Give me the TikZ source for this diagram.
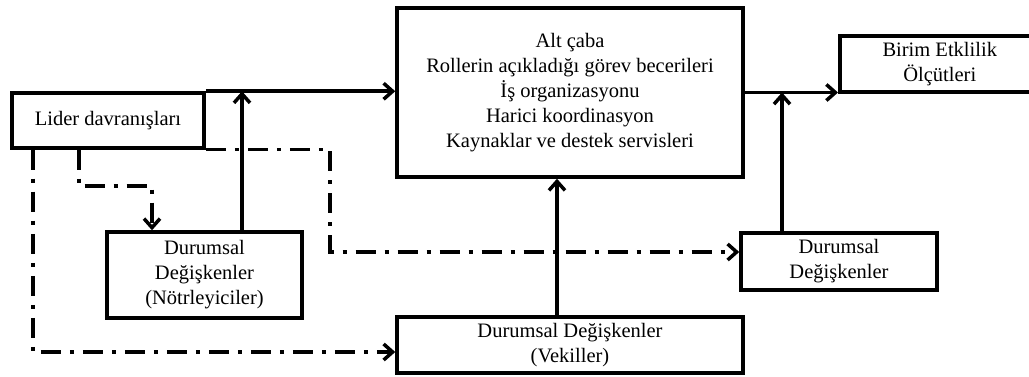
\documentclass[tikz,border=0pt]{standalone}
\usepackage{fontspec}
\setmainfont{Liberation Serif}
\usetikzlibrary{arrows.meta}
\begin{document}
\begin{tikzpicture}[x=1pt,y=-1pt,
  box/.style={draw,line width=3.5pt,rectangle,inner sep=0pt,align=center,
    font=\fontsize{20.5}{25}\selectfont},
  arr/.style={line width=3.5pt,-{Straight Barb[length=9pt,width=16pt,line width=3.5pt]}},
  dd/.style={line width=3.5pt,dash pattern=on 20pt off 9pt on 4pt off 9pt}]
\useasboundingbox (0,0) rectangle (1029,377);
\node[box,minimum width=192pt,minimum height=55pt] (lider) at (108,120.5) {Lider davranışları};
\node[box,minimum width=346pt,minimum height=169pt] (main) at (570,92.5)
  {Alt çaba\\Rollerin açıkladığı görev becerileri\\İş organizasyonu\\Harici koordinasyon\\Kaynaklar ve destek servisleri};
\node[box,minimum width=195pt,minimum height=86pt] (notr) at (204.5,275)
  {Durumsal\\Değişkenler\\(Nötrleyiciler)};
\node[box,minimum width=196pt,minimum height=57pt] (right) at (839,261.5)
  {Durumsal\\Değişkenler};
\node[box,minimum width=346pt,minimum height=56pt] (vek) at (570,345)
  {Durumsal Değişkenler\\(Vekiller)};
\node[box,minimum width=200pt,minimum height=56pt,anchor=west] (birim) at (838,64)
  {Birim Etklilik\\Ölçütleri};
\coordinate (c1) at (330,252);
\coordinate (c2) at (33,352);
% solid connectors
\draw[arr] (lider.north east) -- (main.west |- lider.north east);
\draw[arr] ([xshift=37.5pt]notr.north) -- ([xshift=37.5pt]notr.north |- lider.north east);
\draw[arr] ([xshift=-13pt]vek.north) -- ([xshift=-13pt]vek.north |- main.south);
\draw[arr] (main.east) -- (main.east -| birim.west);
\draw[arr] ([xshift=-57pt]right.north) -- ([xshift=-57pt]right.north |- main.east);
% dash-dot connectors
\draw[dd,arr] ([xshift=-29pt]lider.south) |- ([xshift=-52.5pt,yshift=44pt]notr.north) -- ([xshift=-52.5pt]notr.north);
\draw[dd,arr] (lider.south east) -| (c1) -- (c1 -| right.west);
\draw[dd,arr] ([xshift=-75pt]lider.south) |- (vek.west |- c2);
\end{tikzpicture}
\end{document}
